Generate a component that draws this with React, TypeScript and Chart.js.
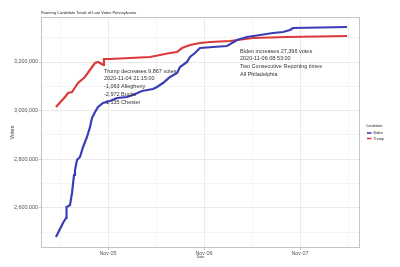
import React, { useEffect, useRef } from "react";
import { Chart, registerables } from "chart.js";

Chart.register(...registerables);

// x values: days since 2020-11-04 00:00 (Nov 05 = 1)
const bidenDays = [0.458, 0.531, 0.5625, 0.568, 0.573, 0.604, 0.625, 0.646, 0.656, 0.677, 0.708, 0.740, 0.781, 0.8125, 0.833, 0.865, 0.896, 0.948, 1.021, 1.094, 1.198, 1.260, 1.354, 1.469, 1.510, 1.573, 1.646, 1.719, 1.750, 1.823, 1.854, 1.906, 1.958, 2.094, 2.240, 2.344, 2.448, 2.583, 2.719, 2.823, 2.896, 2.927, 3.490];
const bidenVotes = [2481000, 2538300, 2558800, 2604000, 2604000, 2612300, 2661600, 2735600, 2756100, 2797200, 2809500, 2850600, 2891800, 2932900, 2969800, 2994500, 3015000, 3031500, 3039700, 3052000, 3056200, 3064400, 3080800, 3089000, 3097300, 3113700, 3138400, 3154800, 3179500, 3200000, 3220600, 3237000, 3257500, 3261700, 3265800, 3290400, 3302800, 3311000, 3319200, 3323300, 3331500, 3339700, 3343900];

const trumpDays = [0.458, 0.552, 0.583, 0.625, 0.6875, 0.760, 0.833, 0.865, 0.896, 0.917, 0.948, 0.958, 1.021, 1.229, 1.4375, 1.542, 1.646, 1.719, 1.771, 1.854, 1.958, 2.0625, 2.271, 2.510, 2.865, 3.490];
const trumpVotes = [3015000, 3056200, 3072600, 3076700, 3113700, 3138400, 3179500, 3195900, 3200000, 3195900, 3187700, 3212300, 3212300, 3216400, 3220600, 3228800, 3237000, 3241100, 3257500, 3269900, 3278100, 3282200, 3286300, 3298600, 3302800, 3306900];

const xTicks = [0.5, 1, 1.5, 2, 2.5, 3, 3.5];
const xTickLabels: Record<number, string> = { 1: "Nov 05", 2: "Nov 06", 3: "Nov 07" };
const yTicks = [2500000, 2600000, 2700000, 2800000, 2900000, 3000000, 3100000, 3200000, 3300000];
const yLabelled = [2600000, 2800000, 3000000, 3200000];

const TITLE = "Running Candidate Totals of Late Votes Pennsylvania";
const LEGEND_TITLE = "Candidate";
const SERIES = ["Biden", "Trump"];
const COLORS = ["#3a3db8", "#dc3a3a"];

const annotation1Lines = ["Trump decreases 9,867 votes", "2020-11-04 21:15:00", "-1,063 Allegheny", "-2,972 Bucks", "-1,135 Chester"];
const annotation1Anchor = { day: 0.958, votes: 3163000 };
const annotation2Lines = ["Biden increases 27,396 votes", "2020-11-06 08:53:00", "Two Consecutive Reporting times", "All Philadelphia"];
const annotation2Anchor = { day: 2.375, votes: 3245200 };

const FONT = '"Liberation Sans", Arial, sans-serif';

const overlay = {
  id: "overlay",
  beforeDatasetsDraw(chart: any) {
    const { ctx, chartArea } = chart;
    ctx.save();
    ctx.strokeStyle = "#c4c4c4";
    ctx.lineWidth = 1;
    ctx.strokeRect(chartArea.left + 0.5, chartArea.top + 0.5, chartArea.right - chartArea.left - 1, chartArea.bottom - chartArea.top - 1);
    ctx.restore();
  },
  afterDraw(chart: any) {
    const { ctx, chartArea } = chart;
    const xs = chart.scales.x;
    const ys = chart.scales.y;
    ctx.save();
    ctx.textAlign = "left";
    ctx.textBaseline = "middle";
    ctx.fillStyle = "#222";
    ctx.font = `4px ${FONT}`;
    ctx.fillText(TITLE, chartArea.left, 13);

    ctx.font = `5.5px ${FONT}`;
    ctx.fillStyle = "#333";
    const drawAnn = (lines: string[], anchor: { day: number; votes: number }) => {
      const px = xs.getPixelForValue(anchor.day);
      const py = ys.getPixelForValue(anchor.votes);
      lines.forEach((l, i) => ctx.fillText(l, px, py + i * 7.8));
    };
    drawAnn(annotation1Lines, annotation1Anchor);
    drawAnn(annotation2Lines, annotation2Anchor);

    // legend
    const lx = chartArea.right + 6;
    ctx.font = `3.6px ${FONT}`;
    ctx.fillStyle = "#222";
    ctx.fillText(LEGEND_TITLE, lx, 126);
    SERIES.forEach((s, i) => {
      const yy = 133 + i * 5.5;
      ctx.strokeStyle = COLORS[i];
      ctx.lineWidth = 1.6;
      ctx.beginPath();
      ctx.moveTo(lx + 1, yy);
      ctx.lineTo(lx + 5.5, yy);
      ctx.stroke();
      ctx.fillText(s, lx + 7.5, yy);
    });
    ctx.restore();
  },
};

export default function App() {
  const ref = useRef<HTMLCanvasElement>(null);
  useEffect(() => {
    if (!ref.current) return;
    const toPts = (xs: number[], ys: number[]) => xs.map((x, i) => ({ x, y: ys[i] }));
    const chart = new Chart(ref.current, {
      type: "line",
      data: {
        datasets: [
          { label: SERIES[0], data: toPts(bidenDays, bidenVotes), borderColor: COLORS[0], borderWidth: 2.2, pointRadius: 0, tension: 0, fill: false },
          { label: SERIES[1], data: toPts(trumpDays, trumpVotes), borderColor: COLORS[1], borderWidth: 2.2, pointRadius: 0, tension: 0, fill: false },
        ],
      },
      options: {
        responsive: false,
        animation: false,
        events: [],
        layout: { padding: { left: 0, top: 17, right: 40, bottom: 0 } },
        plugins: { legend: { display: false }, title: { display: false }, tooltip: { enabled: false } },
        scales: {
          x: {
            type: "linear",
            min: 0.302,
            max: 3.625,
            afterBuildTicks: (axis: any) => { axis.ticks = xTicks.map((v) => ({ value: v })); },
            afterFit: (s: any) => { s.height = 19; },
            border: { display: false },
            grid: {
              color: (c: any) => (Number.isInteger(c.tick?.value) ? "#e4e4e4" : "#f1f1f1"),
              tickColor: (c: any) => (Number.isInteger(c.tick?.value) ? "#b3b3b3" : "rgba(0,0,0,0)"),
              tickLength: 2,
              lineWidth: 0.8,
            },
            ticks: {
              autoSkip: false,
              maxRotation: 0,
              padding: 0,
              color: "#555",
              font: { family: FONT, size: 5.4 },
              callback: (v: any) => xTickLabels[v] ?? "",
            },
            title: { display: true, text: "Date", color: "#333", font: { family: FONT, size: 3.6 }, padding: { top: 0, bottom: 7.5 } },
          },
          y: {
            type: "linear",
            min: 2435500,
            max: 3385000,
            afterBuildTicks: (axis: any) => { axis.ticks = yTicks.map((v) => ({ value: v })); },
            afterFit: (s: any) => { s.width = 41; },
            border: { display: false },
            grid: {
              color: (c: any) => (yLabelled.includes(c.tick?.value) ? "#e4e4e4" : "#f1f1f1"),
              tickColor: (c: any) => (yLabelled.includes(c.tick?.value) ? "#b3b3b3" : "rgba(0,0,0,0)"),
              tickLength: 2,
              lineWidth: 0.8,
            },
            ticks: {
              autoSkip: false,
              padding: 1,
              color: "#555",
              font: { family: FONT, size: 5.4 },
              callback: (v: any) => (yLabelled.includes(v) ? Number(v).toLocaleString("en-US") : ""),
            },
            title: { display: true, text: "Votes", color: "#333", font: { family: FONT, size: 5.5 }, padding: { top: 8.7, bottom: 0 } },
          },
        },
      },
      plugins: [overlay],
    });
    return () => chart.destroy();
  }, []);
  return (
    <div style={{ position: "fixed", left: 0, top: 0, width: 400, height: 267, background: "#fff" }}>
      <canvas ref={ref} width={400} height={267} style={{ display: "block", width: 400, height: 267 }} />
    </div>
  );
}
